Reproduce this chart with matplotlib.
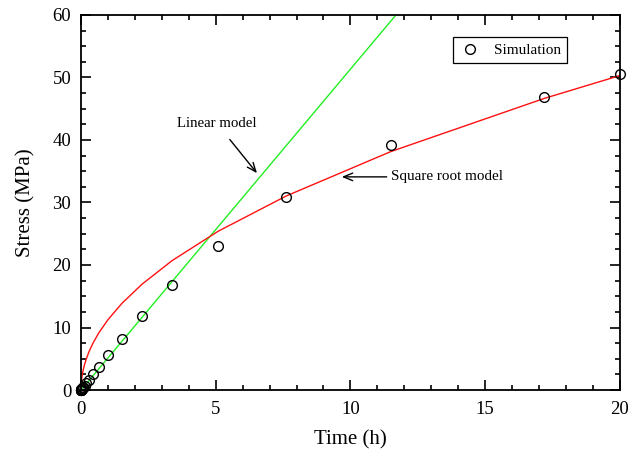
import matplotlib
matplotlib.use('Agg')
import numpy as np
from matplotlib import pyplot as plt
from matplotlib.ticker import MultipleLocator

# simulation points
sim_time = [0.0, 0.001, 0.002, 0.004, 0.006, 0.008, 0.0116, 0.017, 0.026, 0.039,
            0.059, 0.088, 0.132, 0.198, 0.296, 0.444, 0.667, 1.0, 1.52, 2.27,
            3.38, 5.09, 7.62, 11.5, 17.2, 20.0]
sim_stress = [0.0, 0.005, 0.01, 0.02, 0.03, 0.04, 0.06, 0.09, 0.14, 0.21,
              0.31, 0.47, 0.7, 1.07, 1.6, 2.5, 3.7, 5.6, 8.2, 11.8,
              16.8, 23.1, 30.8, 39.2, 46.8, 50.6]

# square root model, drawn through the simulation times
sqrt_time = [0.0, 0.0116, 0.017, 0.026, 0.039, 0.059, 0.088, 0.132, 0.198, 0.296,
             0.444, 0.667, 1.0, 1.52, 2.27, 3.38, 5.09, 7.62, 11.5, 17.2, 20.0]
sqrt_stress = [0.0, 1.21, 1.47, 1.81, 2.22, 2.73, 3.34, 4.09, 5.0, 6.12,
               7.5, 9.19, 11.25, 13.87, 16.95, 20.7, 25.4, 31.05, 38.15, 46.66, 50.31]

# linear model
lin_time = [0.0, 12.0]
lin_stress = [0.0, 61.6]

plt.rcParams['font.family'] = ['Liberation Serif', 'DejaVu Serif']

fig = plt.figure(figsize=(6.41, 4.49), dpi=100)
ax = fig.add_axes([0.1264, 0.1314, 0.8406, 0.8352])

ax.plot(lin_time, lin_stress, color='#22ee22', lw=1.0)
ax.plot(sqrt_time, sqrt_stress, color='#ff1111', lw=1.0)
ax.plot(sim_time, sim_stress, 'o', mfc='none', mec='black', ms=7, mew=1.0,
        clip_on=False, label='Simulation', zorder=5)

ax.set_xlim(0, 20)
ax.set_ylim(0, 60)
ax.xaxis.set_major_locator(MultipleLocator(5))
ax.xaxis.set_minor_locator(MultipleLocator(1))
ax.yaxis.set_major_locator(MultipleLocator(10))
ax.yaxis.set_minor_locator(MultipleLocator(2.5))
ax.tick_params(which='both', direction='in', top=True, right=True, labelsize=13.5,
               width=1.2)
ax.tick_params(which='major', length=7)
ax.tick_params(which='minor', length=3.5)
ax.tick_params(axis='x', which='major', pad=8)
ax.tick_params(axis='y', which='major', pad=7)
for s in ax.spines.values():
    s.set_linewidth(1.3)

ax.set_xlabel('Time (h)', fontsize=15, labelpad=9)
ax.set_ylabel('Stress (MPa)', fontsize=15, labelpad=12)

arrow = dict(arrowstyle='->,head_width=0.25,head_length=0.6', color='black', lw=1.0)
ax.annotate('Linear model', xy=(6.53, 34.7), xytext=(5.05, 42.6),
            ha='center', va='center', fontsize=10.7,
            arrowprops=dict(arrow, shrinkA=6, shrinkB=0))
ax.annotate('Square root model', xy=(9.68, 34.1), xytext=(11.5, 34.1),
            ha='left', va='center', fontsize=10.9,
            arrowprops=dict(arrow, shrinkA=1, shrinkB=0))

leg = ax.legend(loc='upper right', bbox_to_anchor=(0.902, 0.941), fontsize=11,
                fancybox=False, framealpha=1, edgecolor='black', borderaxespad=0,
                handletextpad=0.8, borderpad=0.4, handlelength=1.5)
leg.get_frame().set_linewidth(0.9)

fig.savefig('out.png', dpi=100)
